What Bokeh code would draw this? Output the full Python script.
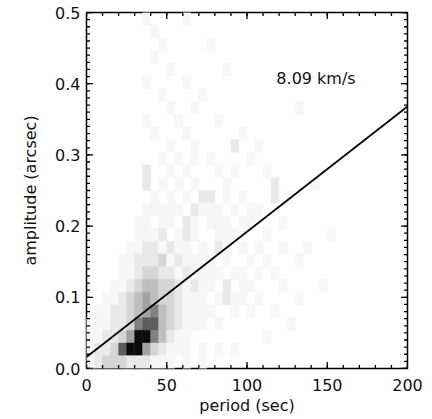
import math
from bokeh.plotting import figure
from bokeh.models import LinearAxis, FixedTicker, Range1d, ColumnDataSource, Label
from bokeh.embed import file_html
from bokeh.resources import INLINE

# ---- data ----
x_bin = 5.0            # period bin width (sec)
y_bin = 0.5 / 28       # amplitude bin height (arcsec)
n_cols = 40
# histogram intensity levels (0 = empty, 9 = densest), rows from top (high amplitude) to bottom
counts_rows = [
    "0000000100001",
    "000000001",
    "0000000001000001",
    "000000001",
    "000000000010000001",
    "0000000100001",
    "000000000100001",
    "000000000010010000000000001",
    "00000001000100001",
    "00000000100010000001",
    "0000000000100100002001",
    "000000000101010100001",
    "00000002001010001010001",
    "00000002010101000100000200001",
    "00000000101010220101000201",
    "0000000111110211101011",
    "0000001101102101110110001",
    "0000001112012100111000100000001",
    "0000011221211010210101001001",
    "000011222312111101001010001",
    "000011233221211110110101",
    "000112344332121102011000100001",
    "001123454332111012110100001",
    "011223456432111100101001",
    "11122367743211101000000001",
    "11223599642110000000001",
    "1223799532111010101",
    "123332221110101",
]
gray_levels = [255, 247, 233, 213, 190, 162, 128, 92, 50, 12]

fit_intercept = 0.016   # arcsec
fit_slope = 0.00176     # arcsec / sec
fit_x = [0, 200]
label_text = "8.09 km/s"
label_pos = (143, 0.407)

x_ticks = [0, 50, 100, 150, 200]
x_minor = list(range(0, 201, 10))
y_ticks = [0.0, 0.1, 0.2, 0.3, 0.4, 0.5]
y_minor = [k / 100 for k in range(0, 51)]
y_tick_labels = {0.0: "0.0", 0.1: "0.1", 0.2: "0.2", 0.3: "0.3", 0.4: "0.4", 0.5: "0.5"}
x_lo, x_hi = 0, 200
y_lo, y_hi = 0.0, 0.5

# ---- build cells ----
xs, ys, cols = [], [], []
n_rows = len(counts_rows)
for r, row in enumerate(counts_rows):
    j = n_rows - 1 - r
    row = row.ljust(n_cols, "0")
    for i, ch in enumerate(row):
        v = int(ch)
        if v == 0:
            continue
        g = gray_levels[v]
        xs.append((i + 0.5) * x_bin)
        ys.append((j + 0.5) * y_bin)
        cols.append("#%02x%02x%02x" % (g, g, g))
src = ColumnDataSource(dict(x=xs, y=ys, c=cols))

p = figure(width=432, height=419, output_backend="svg", toolbar_location=None,
           x_range=Range1d(x_lo, x_hi), y_range=Range1d(y_lo, y_hi),
           min_border_left=86, min_border_top=12, min_border_right=25, min_border_bottom=51,
           x_axis_location=None, y_axis_location=None)
p.background_fill_color = "white"
p.border_fill_color = "white"
p.outline_line_color = "black"
p.outline_line_width = 1.5
p.grid.visible = False

p.rect(x="x", y="y", width=x_bin, height=y_bin, source=src,
       fill_color="c", line_color="c", line_width=0.5)

fit_y = [fit_intercept + fit_slope * x for x in fit_x]
p.line(fit_x, fit_y, line_color="black", line_width=1.8)

# inward tick marks on all four sides (dash markers, clipped at the frame)
def ticks_x(vals, size):
    n = len(vals)
    p.scatter(x=vals + vals, y=[y_lo] * n + [y_hi] * n, marker="dash", angle=math.pi / 2,
              size=size, line_color="black", line_width=1.3)

def ticks_y(vals, size):
    n = len(vals)
    p.scatter(x=[x_lo] * n + [x_hi] * n, y=vals + vals, marker="dash",
              size=size, line_color="black", line_width=1.3)

ticks_x(x_minor, 7)
ticks_x(x_ticks, 13)
ticks_y(y_minor, 7)
ticks_y(y_ticks, 13)

font = "DejaVu Sans"

p.add_layout(Label(x=label_pos[0], y=label_pos[1], text=label_text,
                   text_align="center", text_baseline="middle",
                   text_font=font, text_font_size="16px", text_color="#111111"))

def style(ax):
    ax.axis_line_color = None
    ax.major_tick_in = 0
    ax.major_tick_out = 0
    ax.minor_tick_in = 0
    ax.minor_tick_out = 0
    ax.major_tick_line_color = None
    ax.minor_tick_line_color = None
    ax.major_label_text_font = font
    ax.major_label_text_font_size = "16px"
    ax.major_label_text_color = "#111111"
    ax.axis_label_text_font = font
    ax.axis_label_text_font_size = "16px"
    ax.axis_label_text_font_style = "normal"
    ax.axis_label_text_color = "#111111"

xb = LinearAxis(ticker=FixedTicker(ticks=x_ticks), axis_label="period (sec)")
style(xb)
xb.major_label_standoff = 10
xb.axis_label_standoff = 2
p.add_layout(xb, "below")

yl = LinearAxis(ticker=FixedTicker(ticks=y_ticks), axis_label="amplitude (arcsec)")
style(yl)
yl.major_label_overrides = y_tick_labels
yl.major_label_standoff = 6
yl.axis_label_standoff = 12
p.add_layout(yl, "left")

open("out.html", "w").write(file_html(p, INLINE))
